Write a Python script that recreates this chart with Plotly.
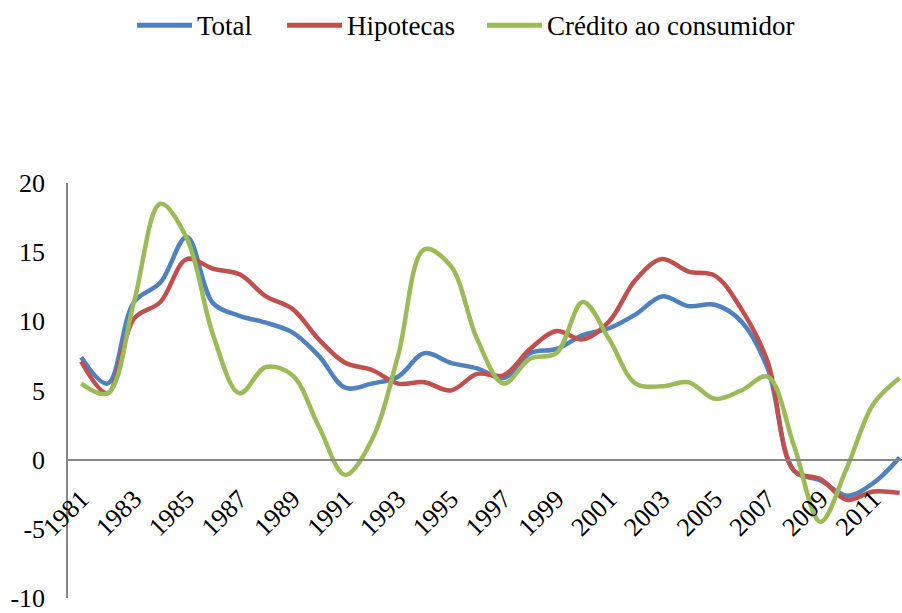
import plotly.graph_objects as go

# Annual growth rates (%), 1981-2012
years = list(range(1981, 2013))
total = [7.4, 5.5, 11.4, 12.8, 16.1, 11.3, 10.4, 9.9, 9.2, 7.5, 5.2, 5.5, 6.0, 7.7, 7.0, 6.6,
         5.9, 7.7, 8.0, 9.0, 9.5, 10.5, 11.8, 11.1, 11.2, 10.0, 6.6, -0.8, -1.5, -2.6, -1.7, 0.15]
hipotecas = [7.1, 4.8, 10.2, 11.4, 14.5, 13.8, 13.4, 11.8, 10.9, 8.7, 7.0, 6.5, 5.5, 5.6, 5.0, 6.2,
             6.1, 8.0, 9.3, 8.7, 10.0, 13.0, 14.5, 13.6, 13.3, 10.9, 7.1, -0.8, -1.4, -2.9, -2.3, -2.4]
credito = [5.5, 4.8, 11.4, 18.5, 16.0, 9.0, 4.8, 6.7, 6.1, 2.4, -1.1, 1.4, 7.5, 15.2, 14.0, 8.7,
           5.5, 7.3, 7.7, 11.4, 8.7, 5.5, 5.3, 5.6, 4.4, 5.0, 6.0, 1.0, -4.5, -0.6, 4.0, 5.9]

y_ticks = [-10, -5, 0, 5, 10, 15, 20]
y_ticktext = ["-10", "-5", "0", "5", "10", "15", "20"]

series = [
    ("Total", total, "#4F81BD"),
    ("Hipotecas", hipotecas, "#C0504D"),
    ("Crédito ao consumidor", credito, "#9BBB59"),
]

FONT = "Liberation Serif"
AXIS_GRAY = "#868686"
W, H = 902, 613
ML, MR, MT, MB = 68, 0, 183, 12
PLOT_W, PLOT_H = W - ML - MR, H - MT - MB


def px_to_paper(px, py):
    return (px - ML) / PLOT_W, (H - MB - py) / PLOT_H


fig = go.Figure()
for name, vals, color in series:
    fig.add_trace(go.Scatter(
        x=years, y=vals, name=name, mode="lines", showlegend=False,
        line=dict(color=color, width=4.5, shape="spline", smoothing=1.0),
    ))

# Legend row across the top: a line sample followed by its label
legend_slots = [(137, 192, 195), (287, 342, 345), (487, 542, 545)]
legend_y = 24
for (name, _, color), (x0, x1, xt) in zip(series, legend_slots):
    px0, py = px_to_paper(x0, legend_y)
    px1, _ = px_to_paper(x1, legend_y)
    fig.add_shape(type="line", xref="paper", yref="paper", x0=px0, x1=px1, y0=py, y1=py,
                  line=dict(color=color, width=5), layer="above")
    ptx, pty = px_to_paper(xt, legend_y + 1)
    fig.add_annotation(xref="paper", yref="paper", x=ptx, y=pty, text=name, showarrow=False,
                       xanchor="left", yanchor="middle",
                       font=dict(family=FONT, size=27, color="black"))

fig.update_layout(
    width=W, height=H,
    margin=dict(l=ML, r=MR, t=MT, b=MB),
    paper_bgcolor="white", plot_bgcolor="white",
    font=dict(family=FONT, size=26, color="black"),
    showlegend=False,
    xaxis=dict(
        range=[1980.5, 2012.09], tick0=1981, dtick=2, tickangle=-45,
        showgrid=False, zeroline=False, showline=True, linecolor=AXIS_GRAY, linewidth=1.5,
        anchor="free", position=1 / 3, ticks="", ticklabelstandoff=13,
        tickfont=dict(family=FONT, size=26),
    ),
    yaxis=dict(
        range=[-10, 20], tickvals=y_ticks, ticktext=y_ticktext,
        showgrid=False, zeroline=False,
        showline=True, linecolor=AXIS_GRAY, linewidth=1.5, ticks="",
        tickfont=dict(family=FONT, size=26), ticklabelstandoff=16,
        ticklabeloverflow="allow",
    ),
)

fig.write_html("out.html")
